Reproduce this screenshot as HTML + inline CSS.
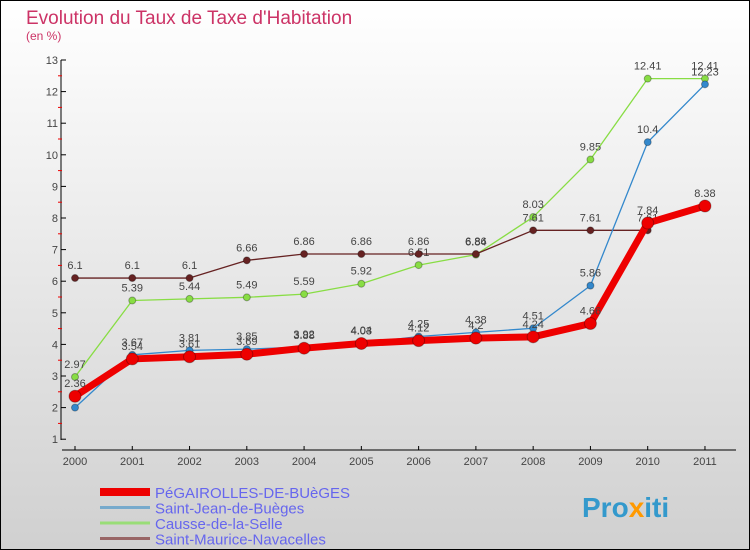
<!DOCTYPE html>
<html><head><meta charset="utf-8"><style>
body{margin:0}
svg{display:block;font-family:"Liberation Sans",sans-serif}
</style></head><body>
<svg width="750" height="550" xmlns="http://www.w3.org/2000/svg">
<defs><linearGradient id="bg" x1="0" y1="0" x2="0" y2="1"><stop offset="0" stop-color="#ffffff"/><stop offset="1" stop-color="#d0d0d0"/></linearGradient></defs>
<rect x="0.5" y="0.5" width="749" height="549" fill="url(#bg)" stroke="#000"/>
<text x="26" y="24" font-size="19" fill="#cc3366">Evolution du Taux de Taxe d'Habitation</text>
<text x="26" y="40" font-size="12" fill="#cc3366">(en %)</text>
<g id="axes"></g>
<g id="series"></g>
<g id="legend"></g>
<text x="582" y="517" font-size="28" font-weight="bold"><tspan fill="#3399cc">Pro</tspan><tspan fill="#ff9900">x</tspan><tspan fill="#3399cc">iti</tspan></text>
</svg>
<script>
const years=["2000","2001","2002","2003","2004","2005","2006","2007","2008","2009","2010","2011"];
const yTicks=[1,2,3,4,5,6,7,8,9,10,11,12,13];
const pegairolles=[2.36,3.54,3.61,3.69,3.88,4.03,4.12,4.2,4.24,4.66,7.84,8.38];
const saintJean=[2,3.67,3.81,3.85,3.92,4.04,4.25,4.38,4.51,5.86,10.4,12.23];
const causse=[2.97,5.39,5.44,5.49,5.59,5.92,6.51,6.84,8.03,9.85,12.41,12.41];
const saintMaurice=[6.1,6.1,6.1,6.66,6.86,6.86,6.86,6.86,7.61,7.61,7.61,null];
const NS="http://www.w3.org/2000/svg";
const X=i=>75+i*57.27, Y=v=>60+(13-v)*31.6;
function mk(t,a,p){const e=document.createElementNS(NS,t);for(const k in a)e.setAttribute(k,a[k]);p.appendChild(e);return e;}
const ax=document.getElementById('axes');
let l=mk('line',{x1:61,y1:60,x2:61,y2:440,stroke:'#000'},ax);


l=mk('line',{x1:62,y1:450,x2:736,y2:450,stroke:'#000'},ax);


yTicks.forEach(v=>{
 mk('line',{x1:61,y1:Y(v),x2:66,y2:Y(v),stroke:'#000'},ax);
 if(v<13)mk('line',{x1:58,y1:Y(v+0.5),x2:62,y2:Y(v+0.5),stroke:'#e00'},ax);
 const t=mk('text',{x:58,y:Y(v)+4,'font-size':11,fill:'#444','text-anchor':'end'},ax);t.textContent=v;
 
 
});
years.forEach((y,i)=>{
 mk('line',{x1:X(i),y1:446,x2:X(i),y2:450,stroke:'#000'},ax);
 const t=mk('text',{x:X(i),y:465,'font-size':11,fill:'#444','text-anchor':'middle'},ax);t.textContent=y;
 
 
});
const sg=document.getElementById('series');
function series(d,col,w,r,name){
 const g=mk('g',{},sg);
 
 
 const pts=d.map((v,i)=>v==null?null:X(i)+','+Y(v)).filter(p=>p);
 mk('polyline',{points:pts.join(' '),fill:'none',stroke:col,'stroke-width':w,'stroke-linejoin':'round'},g);
 d.forEach((v,i)=>{if(v==null)return;
  const c=mk('circle',{cx:X(i),cy:Y(v),r:r,fill:col,stroke:'rgba(0,0,0,0.3)'},g);
  
  
  const t=mk('text',{x:X(i),y:Y(v)-9,'font-size':11,fill:'#444','text-anchor':'middle'},g);t.textContent=v;
 });
}
series(causse,'#88dd44',1.3,3.5,'series-causse');
series(saintMaurice,'#662222',1.3,3.5,'series-saint-maurice');
series(saintJean,'#3388cc',1.3,3.5,'series-saint-jean');
series(pegairolles,'#ee0000',7,6,'series-pegairolles');
const lg=document.getElementById('legend');
[['PéGAIROLLES-DE-BUèGES','#ee0000',8],['Saint-Jean-de-Buèges','#77aacc',3],['Causse-de-la-Selle','#99dd77',3],['Saint-Maurice-Navacelles','#996666',3]].forEach((e,i)=>{
 const yy=492+i*15.5;
 const g=mk('g',{},lg);
 
 
 mk('line',{x1:100,y1:yy,x2:150,y2:yy,stroke:e[1],'stroke-width':e[2]},g);
 const t=mk('text',{x:155,y:yy+6,'font-size':15,fill:'#6666ee'},g);t.textContent=e[0];
});
</script>
</body></html>
